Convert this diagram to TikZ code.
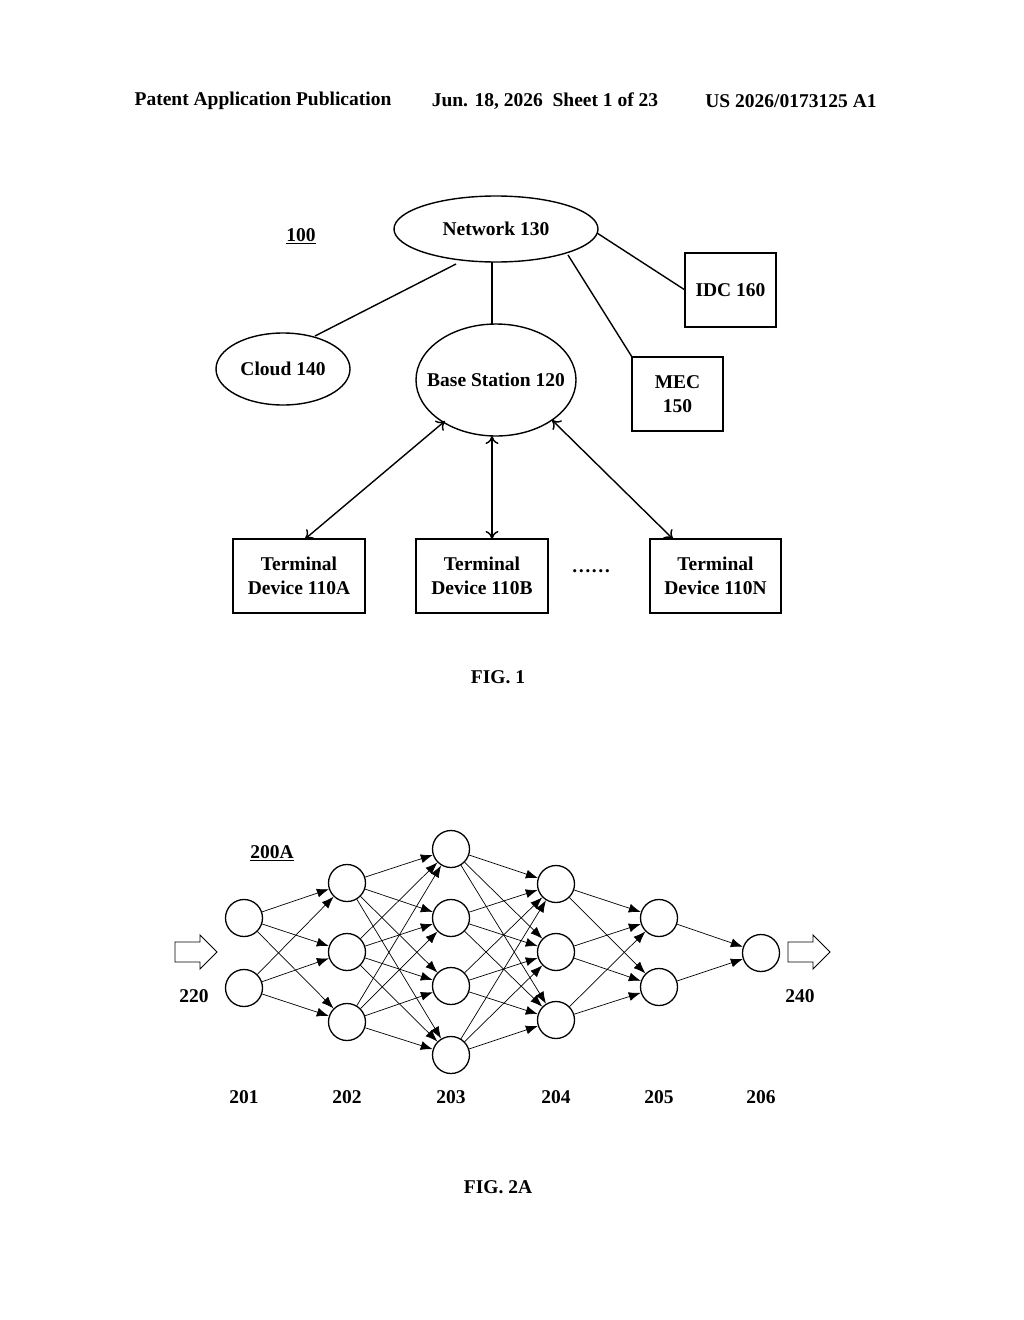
\documentclass[tikz,border=0pt]{standalone}
\usepackage{fontspec}
\setmainfont{Liberation Serif}
\usetikzlibrary{shapes.geometric,arrows.meta}
\begin{document}
\begin{tikzpicture}[x=1pt,y=-1pt,
  every node/.style={font=\fontsize{19.5}{24}\selectfont\bfseries},
  box/.style={draw,line width=1.4pt,align=center,inner sep=0pt},
  ell/.style={draw,ellipse,line width=1.4pt,inner sep=0pt},
  ln/.style={line width=1.4pt},
  dbl/.style={line width=1.4pt,{To[length=8pt,width=13pt]}-{To[length=8pt,width=13pt]}},
  neu/.style={draw,circle,line width=1.3pt,minimum size=37pt,inner sep=0pt},
  syn/.style={line width=0.7pt,-{Latex[length=12pt,width=9pt]}},
  barr/.style={draw,line width=0.9pt,line join=miter}]
\useasboundingbox (0,0) rectangle (1024,1320);
\fill[white] (0,0) rectangle (1024,1320);
% header
\node (h1) at (263,101) {Patent Application Publication};
\node (h2) at (545,101) {Jun. 18, 2026\ \ Sheet 1 of 23};
\node (h3) at (791,101) {US 2026/0173125 A1};
% FIG 1
\node[ell,minimum width=204pt,minimum height=66pt] (net) at (496,229) {};
\node (netl) at (net.center) {Network 130};
\node (l100) at (301,236) {\underline{100}};
\node[box,minimum width=91pt,minimum height=74pt] (idc) at (730.5,290) {IDC 160};
\node[ell,minimum width=134pt,minimum height=72pt] (cloud) at (283,369) {};
\node (cloudl) at (cloud.center) {Cloud 140};
\node[ell,minimum width=160pt,minimum height=112pt] (bs) at (496,380) {};
\node (bsl) at (bs.center) {Base Station 120};
\node[box,minimum width=91pt,minimum height=74pt] (mec) at (677.5,394) {MEC\\150};
\node[box,minimum width=132pt,minimum height=74pt] (ta) at (299,576) {Terminal\\Device 110A};
\node[box,minimum width=132pt,minimum height=74pt] (tb) at (482,576) {Terminal\\Device 110B};
\node[box,minimum width=131pt,minimum height=74pt] (tn) at (715.5,576) {Terminal\\Device 110N};
\node (dots) at (591,571) {……};
\coordinate (n1) at (456,264); \coordinate (c1) at (315,336);
\coordinate (n2) at (492,262); \coordinate (b2) at (492,324);
\coordinate (n3) at (568,255); \coordinate (m3) at (632,357);
\coordinate (n4) at (597,233); \coordinate (i4) at (685,290);
\draw[ln] (n1) -- (c1);
\draw[ln] (n2) -- (b2);
\draw[ln] (n3) -- (m3);
\draw[ln] (n4) -- (i4);
\coordinate (a1) at (305,539); \coordinate (a2) at (445,421);
\coordinate (b1) at (492,539); \coordinate (bb) at (492,436);
\coordinate (c3) at (673,539); \coordinate (c4) at (552,420);
\draw[dbl] (a1) -- (a2);
\draw[dbl] (b1) -- (bb);
\draw[dbl] (c3) -- (c4);
\node (f1) at (498,677) {FIG. 1};
% FIG 2A
\node (l200) at (272,853) {\underline{200A}};
\foreach \n/\x/\y in {a1/244/918,a2/244/988,
  b1/347/883,b2/347/952,b3/347/1022,
  c1/451/849,c2/451/918,c3/451/986,c4/451/1055,
  d1/556/884,d2/556/952,d3/556/1020,
  e1/659/918,e2/659/987,f1/761/953}
  \node[neu] (N\n) at (\x,\y) {};
\foreach \s in {a1,a2}\foreach \t in {b1,b2,b3}\draw[syn] (N\s) -- (N\t);
\foreach \s in {b1,b2,b3}\foreach \t in {c1,c2,c3,c4}\draw[syn] (N\s) -- (N\t);
\foreach \s in {c1,c2,c3,c4}\foreach \t in {d1,d2,d3}\draw[syn] (N\s) -- (N\t);
\foreach \s in {d1,d2,d3}\foreach \t in {e1,e2}\draw[syn] (N\s) -- (N\t);
\foreach \s in {e1,e2}\draw[syn] (N\s) -- (Nf1);
\foreach \x in {175,788}
  \draw[barr] (\x,942) -- ++(25,0) -- ++(0,-7) -- ++(17,17) -- ++(-17,17) -- ++(0,-7) -- ++(-25,0) -- cycle;
\node (l220) at (194,996) {220};
\node (l240) at (800,996) {240};
\foreach \t/\x in {201/244,202/347,203/451,204/556,205/659,206/761}
  \node (L\t) at (\x,1097) {\t};
\node (f2) at (498,1187) {FIG. 2A};
\end{tikzpicture}
\end{document}
